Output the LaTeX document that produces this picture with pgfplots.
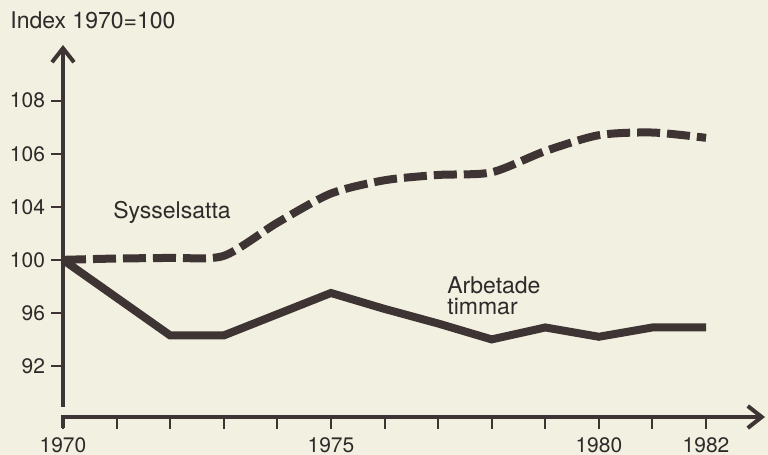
\documentclass[border=0pt]{standalone}
\usepackage{fontspec}
\setmainfont{TeX Gyre Heros}
\usepackage{pgfplots}
\pgfplotsset{compat=1.18}
\usetikzlibrary{arrows.meta}
\definecolor{bg}{RGB}{242,240,224}
\definecolor{ink}{RGB}{62,52,52}
\definecolor{txt}{RGB}{45,42,42}
\begin{document}
\begin{tikzpicture}
\fill[bg] (-31.5pt,-19pt) rectangle (352.5pt,208.5pt);
\useasboundingbox (-31.5pt,-19pt) rectangle (352.5pt,208.5pt);
\begin{axis}[
  at={(0pt,0pt)}, anchor=south west,
  scale only axis, width=351pt, height=186pt,
  xmin=1970, xmax=1983.1,
  y coord trafo/.code={\pgfmathparse{(#1<=104)*((#1-100)/4)+(#1>104)*(1+(#1-104)/2)}},
  ymin=88.15, ymax=110.1,
  axis line style={draw=none},
  xtick={1970,1971,...,1982},
  xticklabels={1970,,,,,1975,,,,,1980,,1982},
  ytick={92,96,100,104,106,108},
  yticklabels={92,96,100,104,106,108},
  xtick pos=bottom, ytick pos=left,
  tick align=outside,
  major tick length=6pt,
  tick style={ink, line width=1pt},
  /pgf/number format/assume math mode=true,
  ticklabel style={font=\fontsize{10.5}{12}\selectfont, text=txt},
  yticklabel style={xshift=0.5pt},
  xticklabel style={yshift=-1pt},
  clip=false,
]
\addplot[ink, line width=4pt, line join=miter] coordinates {
  (1970,100) (1971,97.15) (1972,94.3) (1973,94.3) (1974,95.9) (1975,97.5)
  (1976,96.3) (1977,95.2) (1978,94.0) (1979,94.9) (1980,94.2) (1981,94.9) (1982,94.9)};
\addplot[ink, line width=4pt, smooth, tension=0.45, dash pattern=on 11.5pt off 3.5pt] coordinates {
  (1970,100) (1971,100.1) (1972,100.15) (1973,100.3) (1974,102.8) (1975,104.5)
  (1976,105.0) (1977,105.2) (1978,105.3) (1979,106.1) (1980,106.7) (1981,106.8) (1982,106.6)};
\end{axis}
\draw[ink, line width=2pt, -{Straight Barb[length=7pt, width=11pt, line width=2pt]}] (0pt,5pt) -- (0pt,186pt);
\draw[ink, line width=2pt, -{Straight Barb[length=7pt, width=11pt, line width=2pt]}] (-1pt,0pt) -- (351pt,0pt);
\draw[ink, line width=2pt] (0pt,0pt) -- (0pt,-5.5pt);
\node[anchor=west, inner sep=0pt, text=txt, font=\fontsize{11.5}{13}\selectfont] at (-26.5pt,198.5pt) {Index 1970=100};
\node[inner sep=0pt, text=txt, font=\fontsize{11.5}{13}\selectfont] at (54.5pt,102.5pt) {Sysselsatta};
\node[anchor=west, align=left, inner sep=0pt, text=txt, font=\fontsize{11.5}{10.5}\selectfont] at (192pt,60.75pt) {Arbetade\\timmar};
\end{tikzpicture}
\end{document}
